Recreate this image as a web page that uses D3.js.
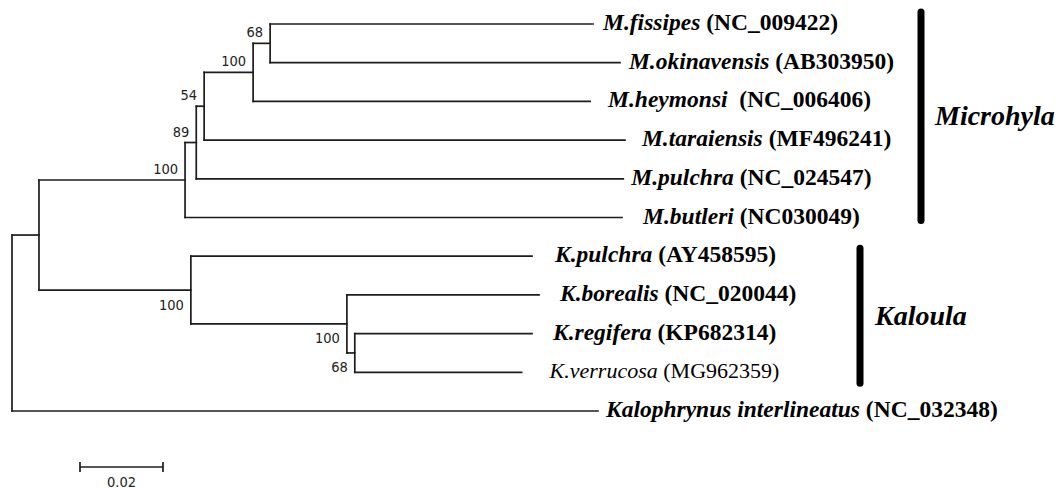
<!DOCTYPE html>
<html>
<head>
<meta charset="utf-8">
<script src="https://cdn.jsdelivr.net/npm/d3@7"></script>
<style>
  html, body { margin: 0; padding: 0; background: #fff; }
  svg { display: block; }
</style>
</head>
<body>
<svg id="chart" width="1060" height="489"></svg>
<script>
// Tree topology: each node, its parent and the length of the branch leading to it
const nodeIds = ["root", "ingroup", "kalophrynus",
  "microhyla", "m89", "m54", "m100", "m68",
  "fissipes", "okinavensis", "heymonsi", "taraiensis", "mpulchra", "butleri",
  "kaloula", "kpulchra", "k100", "borealis", "k68", "regifera", "verrucosa"];
const parentIds = ["", "root", "root",
  "ingroup", "microhyla", "m89", "m54", "m100",
  "m68", "m68", "m100", "m54", "m89", "microhyla",
  "ingroup", "kaloula", "kaloula", "k100", "k100", "k68", "k68"];
const branchLengths = [0, 0.0065, 0.1412,
  0.0352, 0.0027, 0.0019, 0.0118, 0.0041,
  0.0778, 0.0843, 0.0812, 0.1014, 0.1029, 0.1053,
  0.0366, 0.0822, 0.0376, 0.0463, 0.0019, 0.0427, 0.0402];
// Bootstrap support at internal nodes (null = not shown)
const bootstrap = [null, null, null,
  100, 89, 54, 100, 68,
  null, null, null, null, null, null,
  100, null, 100, null, 68, null, null];

// Tip labels
const species = {
  fissipes: "M.fissipes", okinavensis: "M.okinavensis", heymonsi: "M.heymonsi",
  taraiensis: "M.taraiensis", mpulchra: "M.pulchra", butleri: "M.butleri",
  kpulchra: "K.pulchra", borealis: "K.borealis", regifera: "K.regifera",
  verrucosa: "K.verrucosa", kalophrynus: "Kalophrynus interlineatus"
};
const accessions = {
  fissipes: "(NC_009422)", okinavensis: "(AB303950)", heymonsi: " (NC_006406)",
  taraiensis: "(MF496241)", mpulchra: "(NC_024547)", butleri: "(NC030049)",
  kpulchra: "(AY458595)", borealis: "(NC_020044)", regifera: "(KP682314)",
  verrucosa: "(MG962359)", kalophrynus: "(NC_032348)"
};
const plainLabels = ["verrucosa"];

// Genus brackets
const clades = [
  { name: "Microhyla", first: "fissipes", last: "butleri" },
  { name: "Kaloula", first: "kpulchra", last: "verrucosa" }
];

const scaleBarValue = 0.02;

// ---------- layout ----------
const labelGap = { fissipes: 10, okinavensis: 9, heymonsi: 18, taraiensis: 17, mpulchra: 8,
  butleri: 21, kpulchra: 23, borealis: 21, regifera: 21, verrucosa: 28, kalophrynus: 8 };
const bracketX = { Microhyla: 921, Kaloula: 860 };
const bracketPad = { Microhyla: [12, 3], Kaloula: [8, 11] };
const sansFont = "DejaVu Sans Condensed, DejaVu Sans, Tahoma, sans-serif";
const serifFont = "Liberation Serif, Times New Roman, serif";

const table = nodeIds.map((id, i) => ({
  id, parent: parentIds[i] || null, length: branchLengths[i], support: bootstrap[i]
}));
const root = d3.stratify().id(d => d.id).parentId(d => d.parent)(table);

// cumulative branch length
root.eachBefore(n => { n.dist = n.parent ? n.parent.dist + n.data.length : 0; });

const x = d3.scaleLinear().domain([0, 0.1]).range([12, 427]);
const leaves = root.leaves();
const y = d3.scalePoint().domain(leaves.map(d => d.id)).range([24, 411]);

root.eachAfter(n => {
  n.px = x(n.dist);
  n.py = n.children ? d3.mean(n.children, c => c.py) : y(n.id);
});

const svg = d3.select("#chart");
const lineColor = "#1c1c1c";

const g = svg.append("g");

// horizontal branches
g.selectAll("line.h")
  .data(root.descendants().filter(n => n.parent))
  .join("line")
  .attr("x1", d => d.parent.px).attr("x2", d => d.px)
  .attr("y1", d => d.py).attr("y2", d => d.py)
  .attr("stroke", lineColor).attr("stroke-width", 1.7)
  .attr("stroke-linecap", "square");

// vertical connectors
g.selectAll("line.v")
  .data(root.descendants().filter(n => n.children))
  .join("line")
  .attr("x1", d => d.px).attr("x2", d => d.px)
  .attr("y1", d => d3.min(d.children, c => c.py))
  .attr("y2", d => d3.max(d.children, c => c.py))
  .attr("stroke", lineColor).attr("stroke-width", 1.7)
  .attr("stroke-linecap", "square");

// bootstrap values
const kaloulaNode = root.find(n => n.id === "kaloula");
const kaloulaSet = new Set(kaloulaNode.descendants());
g.selectAll("text.boot")
  .data(root.descendants().filter(n => n.data.support != null))
  .join("text")
  .attr("x", d => d.px - 7)
  .attr("y", d => kaloulaSet.has(d) ? d.py + 19.5 : d.py - 6)
  .attr("text-anchor", "end")
  .attr("font-family", sansFont)
  .attr("font-size", 14.5)
  .attr("fill", "#222")
  .text(d => d.data.support);

// tip labels
const tips = g.selectAll("text.tip")
  .data(leaves)
  .join("text")
  .attr("x", d => d.px + labelGap[d.id])
  .attr("y", d => d.py + 6)
  .attr("font-family", serifFont)
  .attr("font-size", d => plainLabels.includes(d.id) ? 22 : 23.5)
  .attr("font-weight", d => plainLabels.includes(d.id) ? "normal" : "bold")
  .attr("fill", "#000");
tips.append("tspan").attr("font-style", "italic").text(d => species[d.id]);
tips.append("tspan").attr("xml:space", "preserve").style("white-space", "pre").text(d => " " + accessions[d.id]);

// clade brackets
clades.forEach(c => {
  const y1 = y(c.first) - bracketPad[c.name][0];
  const y2 = y(c.last) + bracketPad[c.name][1];
  const bx = bracketX[c.name];
  g.append("line")
    .attr("x1", bx).attr("x2", bx).attr("y1", y1).attr("y2", y2)
    .attr("stroke", "#000").attr("stroke-width", 7).attr("stroke-linecap", "round");
  g.append("text")
    .attr("x", bx + (c.name === "Microhyla" ? 14 : 15))
    .attr("y", (y1 + y2) / 2 + 9)
    .attr("font-family", serifFont)
    .attr("font-size", 28)
    .attr("font-style", "italic")
    .attr("font-weight", "bold")
    .attr("fill", "#000")
    .text(c.name);
});

// scale bar
const sbX0 = 80, sbY = 467;
const sbX1 = sbX0 + (x(scaleBarValue) - x(0));
const sb = g.append("g").attr("stroke", lineColor).attr("stroke-width", 1.7);
sb.append("line").attr("x1", sbX0).attr("x2", sbX1).attr("y1", sbY).attr("y2", sbY);
sb.append("line").attr("x1", sbX0).attr("x2", sbX0).attr("y1", sbY - 5).attr("y2", sbY + 5);
sb.append("line").attr("x1", sbX1).attr("x2", sbX1).attr("y1", sbY - 5).attr("y2", sbY + 5);
g.append("text")
  .attr("x", (sbX0 + sbX1) / 2).attr("y", sbY + 20)
  .attr("text-anchor", "middle")
  .attr("font-family", sansFont)
  .attr("font-size", 14.5)
  .attr("fill", "#222")
  .text(scaleBarValue);
</script>
</body>
</html>
